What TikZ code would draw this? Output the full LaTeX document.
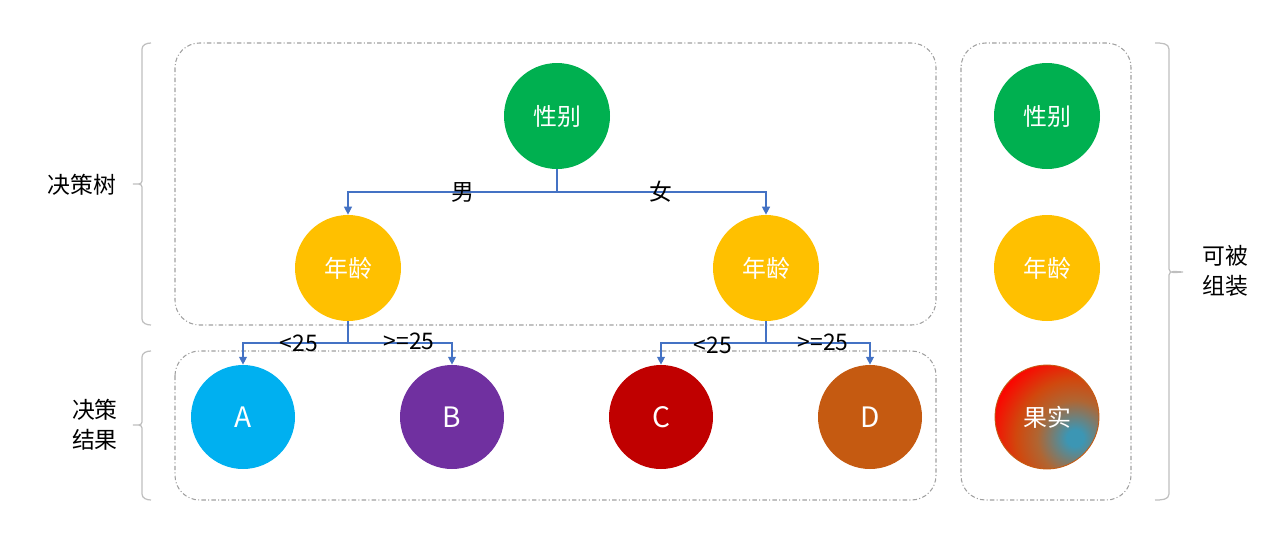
\documentclass[tikz,border=0pt]{standalone}
\usepackage{fontspec}
\setmainfont{Noto Sans CJK SC}
\usetikzlibrary{arrows.meta}
\definecolor{cgreen}{HTML}{00B050}
\definecolor{cyellow}{HTML}{FFC000}
\definecolor{cblue}{HTML}{00B0F0}
\definecolor{cpurple}{HTML}{7030A0}
\definecolor{cred}{HTML}{C00000}
\definecolor{corange}{HTML}{C55A11}
\definecolor{cline}{HTML}{4472C4}
\definecolor{cteal}{HTML}{3C96B4}
\definecolor{cframe}{HTML}{A0A0A0}
\definecolor{cbrace}{HTML}{BFBFBF}
\pgfdeclareradialshading{fruitshade}{\pgfpointorigin}{%
  color(0bp)=(cteal); color(2bp)=(cteal); color(9bp)=(corange!70!gray);
  color(14bp)=(corange!80!red); color(21bp)=(red); color(25bp)=(red)}
% side brace: x of the ends, x of the bar, x of the tip, y top, y middle, y bottom
\newcommand\sidebrace[6]{%
  \draw[bracebar] (#1,#4) to[out=180,in=90] (#2,#4-0.12) -- (#2,#5+0.06)
    to[out=-90,in=0] (#3,#5) to[out=0,in=90] (#2,#5-0.06) -- (#2,#6+0.12)
    to[out=-90,in=180] (#1,#6);}
\newcommand\sidebraceR[6]{%
  \draw[bracebar] (#1,#4) to[out=0,in=90] (#2,#4-0.12) -- (#2,#5+0.06)
    to[out=-90,in=180] (#3,#5) to[out=180,in=90] (#2,#5-0.06) -- (#2,#6+0.12)
    to[out=-90,in=0] (#1,#6);}
\tikzset{
  ball/.style = {circle, minimum size=2.12cm, inner sep=0pt, text=white, font=\fontsize{13.6}{16}\selectfont},
  leaf/.style = {ball, minimum size=2.08cm, font=\fontsize{16}{18}\selectfont},
  frame/.style = {draw=cframe, rounded corners=14pt, line width=0.6pt,
    dash pattern=on 2.5pt off 1.3pt on 0.6pt off 1.3pt},
  flow/.style = {draw=cline, line width=0.75pt},
  arr/.style = {flow, -{Triangle[length=4.5pt,width=4.5pt]}},
  lbl/.style = {inner sep=0pt, font=\fontsize{13}{15}\selectfont},
  side/.style = {inner sep=0pt, align=left, font=\fontsize{13}{17}\selectfont},
  bracebar/.style = {draw=cbrace, line width=0.7pt},
}
\begin{document}
\begin{tikzpicture}
\useasboundingbox (0,0) rectangle (25.48,-10.64);

% frames
\draw[frame] (3.5,-0.86) rectangle (18.72,-6.5);
\draw[frame] (3.5,-7.02) rectangle (18.72,-10.0);
\draw[frame] (19.22,-0.86) rectangle (22.62,-10.0);

% braces
\sidebrace{3.02}{2.84}{2.66}{-0.86}{-3.68}{-6.5}
\sidebrace{3.02}{2.84}{2.66}{-7.02}{-8.5}{-10.0}
\sidebraceR{23.1}{23.38}{23.66}{-0.86}{-5.44}{-10.0}
\node[side] (tree) at (1.64,-3.7) {决策树};
\node[side] (result) at (1.9,-8.5) {决策\\结果};
\node[side] (combine) at (24.5,-5.42) {可被\\组装};

% tree
\node[ball, fill=cgreen] (sex) at (11.14,-2.32) {性别};
\node[ball, fill=cyellow] (ageL) at (6.96,-5.36) {年龄};
\node[ball, fill=cyellow] (ageR) at (15.32,-5.36) {年龄};
\node[leaf, fill=cblue] (A) at (4.86,-8.34) {A};
\node[leaf, fill=cpurple] (B) at (9.04,-8.34) {B};
\node[leaf, fill=cred] (C) at (13.22,-8.34) {C};
\node[leaf, fill=corange] (D) at (17.40,-8.34) {D};

\coordinate (jS) at (11.14,-3.84);
\coordinate (jL) at (6.96,-6.86);
\coordinate (jR) at (15.32,-6.86);
\draw[flow] (sex) -- (jS);
\draw[arr] (jS) -| (ageL);
\draw[arr] (jS) -| (ageR);
\draw[flow] (ageL) -- (jL);
\draw[arr] (jL) -| (A);
\draw[arr] (jL) -| (B);
\draw[flow] (ageR) -- (jR);
\draw[arr] (jR) -| (C);
\draw[arr] (jR) -| (D);

\node[lbl] (male) at (9.26,-3.84) {男};
\node[lbl] (female) at (13.22,-3.84) {女};
\node[lbl] (ltL) at (5.98,-6.86) {<25};
\node[lbl] (geL) at (8.18,-6.82) {>=25};
\node[lbl] (ltR) at (14.26,-6.9) {<25};
\node[lbl] (geR) at (16.46,-6.84) {>=25};

% parts
\node[ball, fill=cgreen] (sex2) at (20.94,-2.32) {性别};
\node[ball, fill=cyellow] (age2) at (20.94,-5.36) {年龄};
\begin{scope}
  \clip (20.94,-8.34) circle (1.04cm);
  \shade[shading=fruitshade] (21.5,-8.76) circle (2.1cm);
\end{scope}
\draw[corange, line width=0.5pt] (20.94,-8.34) circle (1.04cm);
\node[ball] (fruit) at (20.94,-8.34) {果实};
\end{tikzpicture}
\end{document}
